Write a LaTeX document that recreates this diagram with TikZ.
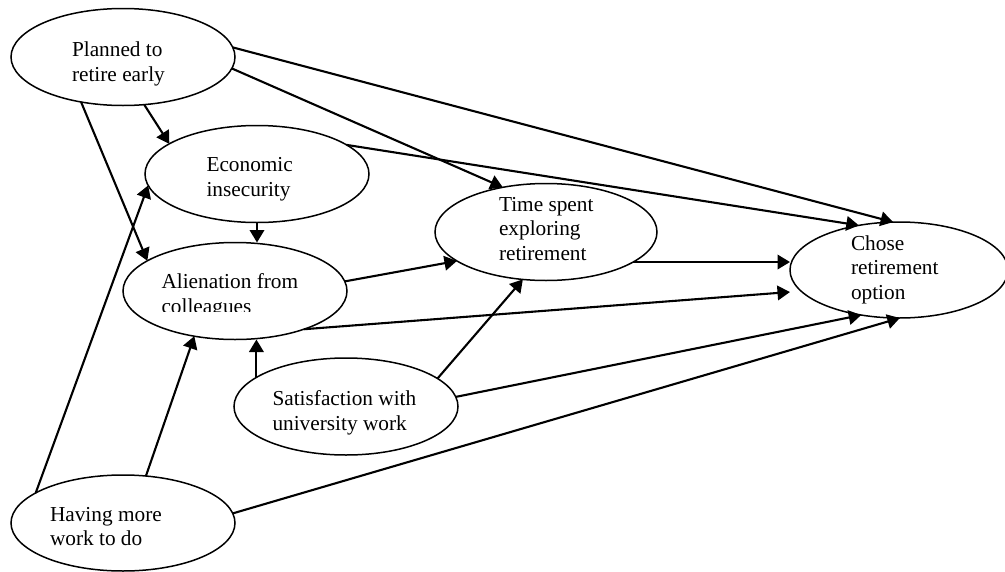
\documentclass[tikz,border=0pt]{standalone}
\usepackage{fontspec}
\setmainfont{Liberation Serif}
\usetikzlibrary{shapes.geometric,arrows.meta,calc}
\begin{document}
\begin{tikzpicture}[x=1pt,y=-1pt,
  ell/.style={draw, ellipse, line width=1.5pt, inner sep=0pt, outer sep=0pt, minimum width=224pt, minimum height=97pt},
  lbl/.style={font=\fontsize{21.3}{24.5}\selectfont, align=left, anchor=north west, inner sep=0pt, outer sep=0pt},
  arr/.style={-{Triangle[length=12.5pt,width=14.5pt]}, line width=2.1pt}]
\fill[white] (0,0) rectangle (1005,571);
\useasboundingbox (0,0) rectangle (1005,571);
% ellipses
\node[ell] (plan) at (123,57) {};
\node[ell] (econ) at (257,174) {};
\node[ell] (alien) at (235,291) {};
\node[ell, minimum width=222pt] (time) at (546,232) {};
\node[ell, minimum width=218pt, minimum height=96pt] (chose) at (899,270) {};
\node[ell] (sat) at (346,406.5) {};
\node[ell, minimum height=96pt] (have) at (123,523) {};
% labels
\node[lbl] (planT) at (72,42) {Planned to\\retire early};
\node[lbl] (econT) at (206.5,157.5) {Economic\\insecurity};
\begin{scope}
\clip (120,250) rectangle (350,311.5);
\node[lbl] (alienT) at (161.5,273.8) {Alienation from\\colleagues};
\end{scope}
\node[lbl] (timeT) at (499,197) {Time spent\\exploring\\retirement};
\node[lbl] (choseT) at (851,235.5) {Chose\\retirement\\option};
\node[lbl] (satT) at (272.5,390.5) {Satisfaction with\\university work};
\node[lbl] (haveT) at (50,507) {Having more\\work to do};
% connectors
\draw[arr] (plan.5) -- (chose.97);
\draw[arr] (plan.-6) -- (time.134);
\draw[arr] (econ.18) -- (chose.132);
\draw[arr] (plan.-66) -- (econ.161);
\draw[arr] (plan.227) -- (alien.161);
\draw[arr] (econ.south) -- (econ.south |- alien.north);
\draw[arr] (have.161) -- (econ.186);
\draw[arr] (have.64) -- (alien.228);
\draw[arr] (have.5) -- (chose.-89);
\draw[arr] (sat.5) -- (chose.-130);
\draw[arr] (sat.17) -- (time.-116);
\draw[arr] (sat.162) -- (sat.162 |- alien.south);
\draw[arr] (alien.5) -- (time.-162);
\draw[arr] (alien.-29) -- ($(chose.west)+(0,22)$);
\draw[arr] (time.-19) -- (time.-19 -| chose.west);
\end{tikzpicture}
\end{document}
